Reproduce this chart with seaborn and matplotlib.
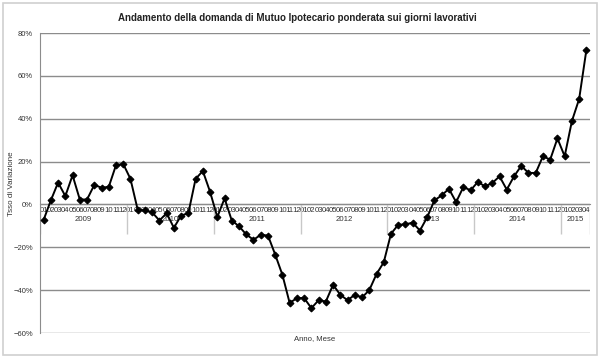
import numpy as np
import pandas as pd
import matplotlib
matplotlib.use("Agg")
import matplotlib.pyplot as plt
import matplotlib.ticker as mtick
import matplotlib.transforms as mtransforms
from matplotlib.patches import Rectangle
import seaborn as sns

years = ["2009", "2010", "2011", "2012", "2013", "2014", "2015"]
months_per_year = [12, 12, 12, 12, 12, 12, 4]
month_labels = [f"{m:02d}" for n in months_per_year for m in range(1, n + 1)]

# tasso di variazione (%), gen 2009 - apr 2015
y2009 = [-7.2, 1.9, 10.2, 3.9, 13.6, 2.3, 2.3, 9.1, 7.8, 8.2, 18.3, 18.9]
y2010 = [11.9, -2.5, -2.8, -3.7, -7.5, -4.1, -10.9, -5.2, -4.1, 11.9, 15.6, 5.9]
y2011 = [-5.9, 2.8, -7.5, -10.2, -14.0, -16.5, -14.2, -14.5, -23.4, -32.9, -46.0, -43.7]
y2012 = [-43.7, -48.4, -44.7, -45.3, -37.5, -42.2, -44.7, -42.2, -43.4, -40.0, -32.5, -27.0]
y2013 = [-13.7, -9.5, -9.3, -8.5, -12.2, -6.0, 1.9, 4.2, 7.3, 1.1, 8.1, 6.6]
y2014 = [10.5, 8.4, 10.0, 13.1, 6.9, 13.1, 18.0, 14.7, 14.7, 22.5, 20.9, 30.8]
y2015 = [22.5, 38.9, 49.2, 72.1]

values = y2009 + y2010 + y2011 + y2012 + y2013 + y2014 + y2015
df = pd.DataFrame({"idx": np.arange(len(values)), "val": values})

sns.set_style("white")
plt.rcParams["font.family"] = ["Liberation Sans Narrow", "Liberation Sans", "DejaVu Sans"]

fig = plt.figure(figsize=(6, 3.6), dpi=100)
ax = fig.add_axes([40 / 600, 1 - 333 / 360, 550 / 600, 300 / 360])

sns.lineplot(data=df, x="idx", y="val", ax=ax, color="black", linewidth=1.4,
             marker="D", markersize=3.5, markeredgecolor="black", zorder=5)

ax.set_xlim(-0.5, len(values) - 0.5)
ax.set_ylim(-60, 80)
ax.set_yticks(np.arange(-60, 81, 20))
ax.yaxis.set_major_formatter(mtick.PercentFormatter(decimals=0))
ax.yaxis.grid(True, color="#8c8c8c", linewidth=1)
ax.set_axisbelow(True)

for s in ["top", "right"]:
    ax.spines[s].set_visible(False)
ax.spines["left"].set_color("#8c8c8c")
ax.spines["bottom"].set_position(("data", 0))
ax.spines["bottom"].set_color("#8c8c8c")

ax.set_xticks(df["idx"])
ax.set_xticklabels(month_labels, fontsize=5.6, color="#333333")
ax.set_xticks(np.arange(-0.5, len(values), 1), minor=True)
ax.tick_params(axis="x", which="major", length=0, pad=2)
ax.tick_params(axis="x", which="minor", length=3, color="#8c8c8c")
ax.tick_params(axis="y", length=3, color="#8c8c8c", labelsize=5.5, labelcolor="#333333", pad=2)

ax.set_xlabel("")
ax.set_ylabel("")

# year labels and separators
trans = mtransforms.blended_transform_factory(ax.transData, ax.transData)
start = 0
for yr, n in zip(years, months_per_year):
    ax.text(start + n / 2 - 0.5, -5.5, yr, transform=trans, ha="center", va="top",
            fontsize=5.6, color="#333333")
    start += n
    ax.vlines(start - 0.5, -14, 0, color="#c8c8c8", linewidth=1, zorder=1)
ax.vlines(-0.5, -14, 0, color="#c8c8c8", linewidth=1, zorder=1)

fig.text(0.495, 1 - 18 / 360, "Andamento della domanda di Mutuo Ipotecario ponderata sui giorni lavorativi",
         ha="center", va="center", fontsize=7, fontweight="bold", color="#222222")
fig.text(12 / 600, 0.49, "Tsso di Variazione", rotation=90, ha="center", va="center",
         fontsize=5.8, color="#333333")
fig.text(315 / 600, 1 - 339 / 360, "Anno, Mese", ha="center", va="center",
         fontsize=5.6, color="#333333")

fig.patches.append(Rectangle((3 / 600, 5 / 360), 594 / 600, 352 / 360, transform=fig.transFigure,
                             fill=False, edgecolor="#d0d0d0", linewidth=1.2))

fig.savefig("out.png", dpi=100)
